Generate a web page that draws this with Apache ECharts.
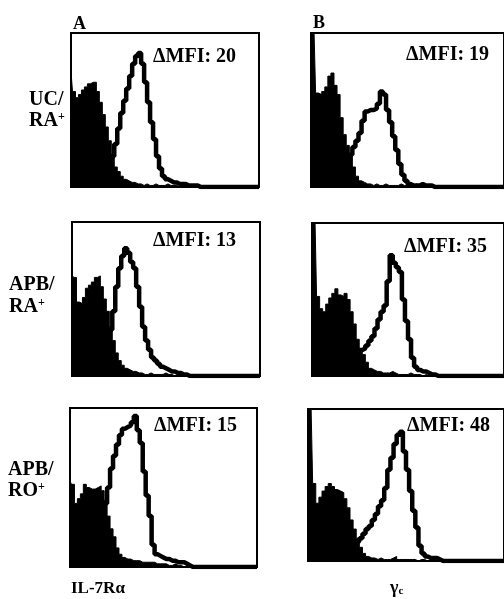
<!DOCTYPE html>
<html>
<head>
<meta charset="utf-8">
<script src="https://cdn.jsdelivr.net/npm/echarts@6/dist/echarts.min.js"></script>
<style>
  html, body { margin: 0; padding: 0; background: #fff; }
  #chart { width: 504px; height: 599px; }
</style>
</head>
<body>
<div id="chart"></div>
<script>
    // histogram channels (bins), counts in % of panel height
    const bins = [];
    for (let i = 0; i < 64; i++) bins.push(i);

    // A: IL-7Ra, B: gamma c ; iso = filled control, stain = open curve
    const a1Iso = [75,62,58,60,63,65,67,68,68,62, 55,47,39,30,20,13,10,7,5,4, 3,3,2,2,1,2,1,1,2,1, 1,1,2,1,1,1,0,1,1,0,
        0,0,0,0,0,0,0,0,0,0, 0,0,0,0,0,0,0,0,0,0, 0,0,0,0];
    const a1Stain = [1,1,1,1,2,2,3,3,4,5, 7,9,12,15,20,28,38,48,56,64, 72,80,85,87,80,68,55,42,31,20, 12,7,5,4,3,3,2,2,2,1,
        1,1,1,0,0,0,0,0,0,0, 0,0,0,0,0,0,0,0,0,0, 0,0,0,0];
    const b1Iso = [100,100,61,60,62,65,72,74,66,60, 45,34,27,20,13,7,4,3,2,2, 1,2,1,1,2,1,1,1,1,2, 1,1,1,1,2,1,1,1,0,1,
        0,0,0,0,0,0,0,0,0,0, 0,0,0,0,0,0,0,0,0,0, 0,0,0,0];
    const b1Stain = [1,1,2,2,3,3,4,5,6,8, 10,13,17,21,26,30,35,43,49,50, 50,51,54,62,60,50,42,33,24,15, 8,4,2,1,1,1,2,1,1,1,
        0,0,0,0,0,0,0,0,0,0, 0,0,0,0,0,0,0,0,0,0, 0,0,0,0];
    const a2Iso = [66,64,48,47,51,57,59,61,64,65, 58,50,42,32,23,15,10,7,5,4, 3,3,2,2,1,1,2,1,1,1, 1,2,1,1,0,1,0,0,0,0,
        0,0,0,0,0,0,0,0,0,0, 0,0,0,0,0,0,0,0,0,0, 0,0,0,0];
    const a2Stain = [1,1,2,2,3,3,4,5,6,8, 10,14,20,30,42,58,70,78,83,80, 74,70,58,45,32,23,17,12,10,8, 6,5,4,3,3,2,2,1,1,0,
        0,0,0,0,0,0,0,0,0,0, 0,0,0,0,0,0,0,0,0,0, 0,0,0,0];
    const b2Iso = [100,100,52,44,42,47,51,54,57,53, 52,54,50,42,34,24,18,14,9,5, 4,3,3,2,2,2,3,2,1,1, 1,1,2,1,1,1,0,1,0,0,
        0,0,0,0,0,0,0,0,0,0, 0,0,0,0,0,0,0,0,0,0, 0,0,0,0];
    const b2Stain = [1,1,1,2,2,3,3,4,5,6, 7,8,10,11,13,15,17,18,20,23, 26,31,37,42,46,62,79,74,71,68, 50,36,24,12,6,4,3,3,2,1,
        1,0,0,0,0,0,0,0,0,0, 0,0,0,0,0,0,0,0,0,0, 0,0,0,0];
    const a3Iso = [54,52,40,43,46,52,50,49,49,50, 51,48,42,32,24,19,12,8,6,5, 5,4,4,4,3,3,3,3,3,2, 2,2,2,1,1,2,1,1,0,1,
        0,0,0,0,0,0,0,0,0,0, 0,0,0,0,0,0,0,0,0,0, 0,0,0,0];
    const a3Stain = [1,1,2,3,4,5,7,9,12,16, 22,30,40,50,62,70,77,83,87,88, 89,91,95,86,78,60,45,32,14,8, 7,6,5,5,4,4,3,3,3,2,
        1,0,0,0,0,0,0,0,0,0, 0,0,0,0,0,0,0,0,0,0, 0,0,0,0];
    const b3Iso = [100,100,51,38,42,46,49,51,49,47, 46,45,41,35,27,21,15,9,5,3, 2,2,1,2,1,1,1,2,3,1, 1,1,1,1,1,0,1,1,0,0,
        0,0,1,0,0,0,0,0,0,0, 0,0,0,0,0,0,0,0,0,0, 0,0,0,0];
    const b3Stain = [1,1,1,2,2,2,3,3,4,5, 6,7,8,9,10,12,13,15,18,21, 23,27,31,36,40,48,60,68,77,83, 85,72,60,46,33,22,10,5,3,2,
        2,2,1,0,0,0,0,0,0,0, 0,0,0,0,0,0,0,0,0,0, 0,0,0,0];

    const isoData = [a1Iso, b1Iso, a2Iso, b2Iso, a3Iso, b3Iso];
    const stainData = [a1Stain, b1Stain, a2Stain, b2Stain, a3Stain, b3Stain];
    const mfiValues = [20, 19, 13, 35, 15, 48];
    const rowLabels = [['UC/', 'RA'], ['APB/', 'RA'], ['APB/', 'RO']];
    const panelLetters = ['A', 'B'];
    const axisNames = ['IL-7R\u03b1', '\u03b3'];

    // layout
    const grids = [
        {left: 71, top: 33, width: 188, height: 154},
        {left: 311, top: 33, width: 200, height: 154},
        {left: 72, top: 222, width: 188, height: 154},
        {left: 312, top: 223, width: 200, height: 153},
        {left: 70, top: 408, width: 187, height: 159},
        {left: 308, top: 409, width: 200, height: 152}
    ];
    const mfiPos = [[153, 47], [406, 45], [153, 231], [404, 237], [154, 416], [407, 416]];
    const rowPos = [[29, 90, 111], [9, 275, 297], [8, 460, 481]];
    const letterPos = [[73, 15], [313, 14]];
    const namePos = [[71, 580], [390, 579]];

    const FONT = '"Liberation Serif", "Times New Roman", serif';

    function label(x, y, text, size, rich) {
        return {
            type: 'text', x: x, y: y,
            style: {
                text: text, fill: '#000', fontFamily: FONT, fontWeight: 'bold',
                fontSize: size, verticalAlign: 'top', rich: rich
            }
        };
    }

    let chart = echarts.init(document.getElementById('chart'));
    let option = {animation: false, grid: [], xAxis: [], yAxis: [], series: [], graphic: []};

    grids.forEach(function (g, i) {
        option.grid.push(Object.assign({show: true, borderColor: '#000', borderWidth: 2, backgroundColor: '#fff'}, g));
        option.xAxis.push({type: 'category', gridIndex: i, data: bins, boundaryGap: false, show: false});
        option.yAxis.push({type: 'value', gridIndex: i, min: 0, max: 100, show: false});
        option.series.push({
            type: 'line', xAxisIndex: i, yAxisIndex: i, data: isoData[i], step: 'middle',
            symbol: 'none', lineStyle: {color: '#000', width: 1},
            areaStyle: {color: '#000', opacity: 1}, z: 2
        });
        option.series.push({
            type: 'line', xAxisIndex: i, yAxisIndex: i, data: stainData[i], step: 'middle',
            symbol: 'none', lineStyle: {color: '#000', width: 4.5}, z: 3
        });
        option.graphic.push(label(mfiPos[i][0], mfiPos[i][1], '\u0394MFI: ' + mfiValues[i], 20));
    });

    const supRich = {sup: {fontFamily: FONT, fontWeight: 'bold', fontSize: 12, verticalAlign: 'top', padding: [0, 0, 6, 0]}};
    rowLabels.forEach(function (r, i) {
        option.graphic.push(label(rowPos[i][0], rowPos[i][1], r[0], 20));
        option.graphic.push(label(rowPos[i][0], rowPos[i][2], r[1] + '{sup|+}', 20, supRich));
    });
    panelLetters.forEach(function (t, i) {
        option.graphic.push(label(letterPos[i][0], letterPos[i][1], t, 18));
    });
    option.graphic.push(label(namePos[0][0], namePos[0][1], axisNames[0], 17));
    option.graphic.push(label(namePos[1][0], namePos[1][1], axisNames[1] + '{sub|c}', 18,
        {sub: {fontFamily: FONT, fontWeight: 'bold', fontSize: 11, verticalAlign: 'bottom', padding: [6, 0, 0, 0]}}));

    chart.setOption(option);
</script>
</body>
</html>
